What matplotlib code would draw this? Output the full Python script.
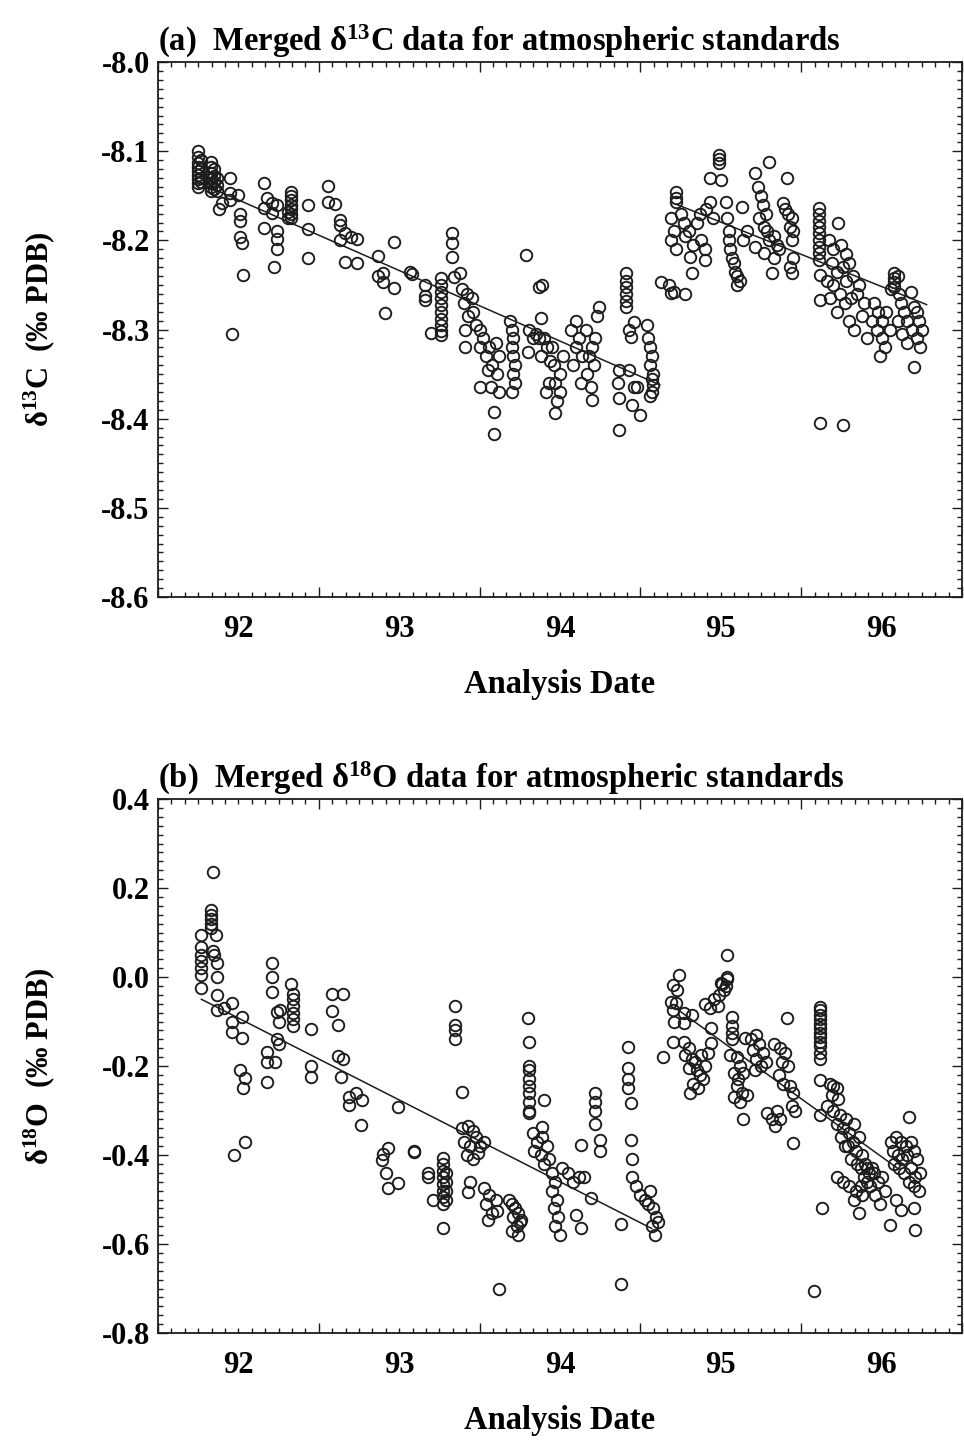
import matplotlib
matplotlib.use("Agg")
import matplotlib.pyplot as plt
from matplotlib.ticker import MultipleLocator, FormatStrFormatter, NullFormatter

plt.rcParams['font.family'] = ['Liberation Serif', 'DejaVu Serif']
plt.rcParams['font.weight'] = 'bold'
plt.rcParams['axes.titleweight'] = 'bold'
plt.rcParams['axes.labelweight'] = 'bold'
plt.rcParams['mathtext.fontset'] = 'custom'
plt.rcParams['mathtext.rm'] = 'Liberation Serif:bold'
plt.rcParams['mathtext.it'] = 'Liberation Serif:italic:bold'
plt.rcParams['mathtext.bf'] = 'Liberation Serif:bold'
plt.rcParams['axes.unicode_minus'] = False

# year axis: labels sit in the middle of each year
year_mid = [1992.5, 1993.5, 1994.5, 1995.5, 1996.5]
year_labels = ['92', '93', '94', '95', '96']

# (a) d13C of the atmospheric standards, per analysis date
c13_date = [
    1992.25, 1992.25, 1992.25, 1992.25, 1992.25, 1992.25, 1992.25, 1992.25, 1992.25,
    1992.27, 1992.27, 1992.27, 1992.27,
    1992.33, 1992.33, 1992.33, 1992.33, 1992.33, 1992.33, 1992.33,
    1992.35, 1992.35, 1992.35, 1992.35,
    1992.37, 1992.37, 1992.37,
    1992.38, 1992.40, 1992.45, 1992.45, 1992.45, 1992.46, 1992.50,
    1992.51, 1992.51, 1992.51, 1992.52, 1992.53,
    1992.66, 1992.66, 1992.66, 1992.68, 1992.71, 1992.71, 1992.72,
    1992.74, 1992.74, 1992.74, 1992.74, 1992.81, 1992.81,
    1992.83, 1992.83, 1992.83, 1992.83, 1992.83, 1992.83, 1992.83,
    1992.93, 1992.93, 1992.93, 1993.06, 1993.06, 1993.10,
    1993.13, 1993.13, 1993.13, 1993.16, 1993.16, 1993.20, 1993.24, 1993.24,
    1993.37, 1993.37, 1993.40, 1993.40, 1993.41, 1993.47, 1993.47,
    1993.57, 1993.58, 1993.66, 1993.66, 1993.66, 1993.70,
    1993.76, 1993.76, 1993.76, 1993.76, 1993.76, 1993.76, 1993.76, 1993.76, 1993.76, 1993.76,
    1993.83, 1993.83, 1993.83, 1993.84, 1993.88,
    1993.89, 1993.90, 1993.92, 1993.93, 1993.95, 1993.96, 1993.98, 1993.91, 1993.91, 1994.00, 1994.00,
    1994.02, 1994.04, 1994.06, 1994.08, 1994.10, 1994.12, 1994.05, 1994.11,
    1994.00, 1994.07, 1994.12, 1994.09, 1994.09,
    1994.19, 1994.20, 1994.21, 1994.20, 1994.21, 1994.22, 1994.21, 1994.22, 1994.20,
    1994.29, 1994.37, 1994.39, 1994.38,
    1994.31, 1994.33, 1994.35, 1994.37, 1994.40, 1994.42, 1994.30, 1994.38, 1994.44,
    1994.45, 1994.46, 1994.47, 1994.48, 1994.47, 1994.50, 1994.52, 1994.50, 1994.41, 1994.43,
    1994.57, 1994.60, 1994.62, 1994.64, 1994.60, 1994.66, 1994.68, 1994.70, 1994.72,
    1994.74, 1994.73, 1994.58, 1994.63, 1994.67, 1994.71, 1994.69, 1994.70,
    1994.87, 1994.87, 1994.87, 1994.86,
    1994.91, 1994.91, 1994.91, 1994.91, 1994.91, 1994.91,
    1994.93, 1994.94, 1994.93, 1994.95, 1994.96, 1994.98, 1995.00, 1994.96,
    1995.04, 1995.05, 1995.06, 1995.07, 1995.06, 1995.08, 1995.07, 1995.08, 1995.07, 1995.06,
    1995.13, 1995.18, 1995.19, 1995.21, 1995.28,
    1995.22, 1995.22, 1995.22, 1995.19, 1995.21, 1995.19, 1995.22, 1995.25, 1995.27, 1995.28, 1995.30,
    1995.31, 1995.32, 1995.33, 1995.35, 1995.37, 1995.38, 1995.40, 1995.40, 1995.43, 1995.41, 1995.45,
    1995.49, 1995.49, 1995.49, 1995.43, 1995.50,
    1995.53, 1995.54, 1995.55, 1995.55, 1995.56, 1995.57, 1995.58, 1995.59, 1995.60, 1995.60,
    1995.62, 1995.63, 1995.64, 1995.66,
    1995.71, 1995.80, 1995.73, 1995.75, 1995.76, 1995.74, 1995.78, 1995.77, 1995.79,
    1995.71, 1995.77, 1995.80, 1995.83, 1995.85, 1995.82, 1995.83, 1995.86,
    1995.91, 1995.89, 1995.90, 1995.92, 1995.94, 1995.93, 1995.95, 1995.94, 1995.95, 1995.94, 1995.93,
    1996.11, 1996.11, 1996.11, 1996.11, 1996.11, 1996.11, 1996.11, 1996.11, 1996.11,
    1996.12, 1996.12, 1996.12, 1996.26,
    1996.23, 1996.17, 1996.20, 1996.25, 1996.28, 1996.19, 1996.22, 1996.26, 1996.30, 1996.16,
    1996.20, 1996.24, 1996.28, 1996.32, 1996.36, 1996.18, 1996.22, 1996.27, 1996.31, 1996.35,
    1996.39, 1996.33, 1996.38, 1996.41, 1996.30,
    1996.45, 1996.48, 1996.44, 1996.50, 1996.53, 1996.47, 1996.50, 1996.55, 1996.52, 1996.58,
    1996.58, 1996.58, 1996.58, 1996.60, 1996.56, 1996.61, 1996.62, 1996.64, 1996.60, 1996.66,
    1996.63, 1996.68, 1996.70, 1996.72, 1996.69, 1996.73, 1996.75, 1996.72, 1996.74, 1996.66,
    1996.49, 1996.70,
]
c13_val = [
    -8.100, -8.107, -8.113, -8.118, -8.122, -8.127, -8.131, -8.136, -8.140,
    -8.110, -8.120, -8.130, -8.135,
    -8.112, -8.118, -8.124, -8.130, -8.136, -8.140, -8.145,
    -8.120, -8.128, -8.135, -8.142,
    -8.130, -8.138, -8.145,
    -8.165, -8.158, -8.130, -8.147, -8.155, -8.305, -8.149,
    -8.170, -8.178, -8.196, -8.203, -8.239,
    -8.136, -8.164, -8.186, -8.152, -8.158, -8.169, -8.230,
    -8.160, -8.190, -8.198, -8.210, -8.168, -8.175,
    -8.146, -8.150, -8.155, -8.160, -8.165, -8.170, -8.175,
    -8.160, -8.187, -8.220, -8.139, -8.157, -8.159,
    -8.177, -8.183, -8.200, -8.192, -8.224, -8.196, -8.198, -8.225,
    -8.218, -8.240, -8.237, -8.247, -8.281, -8.202, -8.253,
    -8.235, -8.238, -8.250, -8.262, -8.267, -8.304,
    -8.242, -8.250, -8.258, -8.265, -8.272, -8.280, -8.288, -8.295, -8.302, -8.306,
    -8.192, -8.203, -8.219, -8.241, -8.237,
    -8.255, -8.270, -8.260, -8.285, -8.265, -8.280, -8.295, -8.300, -8.320, -8.320, -8.300,
    -8.310, -8.330, -8.320, -8.340, -8.315, -8.330, -8.345, -8.350,
    -8.364, -8.364, -8.370, -8.392, -8.417,
    -8.290, -8.300, -8.310, -8.320, -8.330, -8.340, -8.350, -8.360, -8.370,
    -8.216, -8.252, -8.250, -8.287,
    -8.300, -8.310, -8.305, -8.310, -8.310, -8.320, -8.325, -8.330, -8.335,
    -8.320, -8.340, -8.360, -8.380, -8.394, -8.350, -8.330, -8.370, -8.370, -8.360,
    -8.300, -8.290, -8.310, -8.330, -8.320, -8.300, -8.330, -8.320, -8.310,
    -8.275, -8.285, -8.340, -8.360, -8.350, -8.340, -8.365, -8.379,
    -8.413, -8.345, -8.377, -8.360,
    -8.237, -8.245, -8.252, -8.260, -8.268, -8.275,
    -8.300, -8.308, -8.345, -8.385, -8.365, -8.365, -8.396, -8.291,
    -8.295, -8.310, -8.320, -8.330, -8.340, -8.350, -8.355, -8.362, -8.370, -8.375,
    -8.247, -8.250, -8.259, -8.258, -8.260,
    -8.146, -8.152, -8.157, -8.175, -8.190, -8.200, -8.210, -8.170, -8.180, -8.195, -8.190,
    -8.219, -8.237, -8.205, -8.180, -8.170, -8.200, -8.222, -8.210, -8.157, -8.165, -8.175,
    -8.104, -8.109, -8.113, -8.130, -8.132,
    -8.157, -8.175, -8.190, -8.200, -8.210, -8.220, -8.225, -8.235, -8.240, -8.250,
    -8.245, -8.163, -8.200, -8.190,
    -8.124, -8.112, -8.140, -8.150, -8.160, -8.175, -8.170, -8.185, -8.190,
    -8.207, -8.214, -8.200, -8.195, -8.205, -8.237, -8.220, -8.210,
    -8.130, -8.158, -8.165, -8.170, -8.175, -8.185, -8.190, -8.200, -8.220, -8.237, -8.230,
    -8.164, -8.170, -8.178, -8.185, -8.192, -8.200, -8.207, -8.214, -8.222,
    -8.239, -8.267, -8.405, -8.407,
    -8.180, -8.200, -8.210, -8.205, -8.215, -8.225, -8.235, -8.230, -8.225, -8.245,
    -8.250, -8.260, -8.245, -8.240, -8.250, -8.265, -8.280, -8.270, -8.265, -8.260,
    -8.270, -8.300, -8.285, -8.310, -8.290,
    -8.270, -8.280, -8.290, -8.290, -8.280, -8.300, -8.310, -8.300, -8.320, -8.237,
    -8.242, -8.247, -8.252, -8.240, -8.255, -8.260, -8.270, -8.280, -8.290, -8.290,
    -8.305, -8.258, -8.275, -8.280, -8.300, -8.290, -8.300, -8.310, -8.320, -8.315,
    -8.330, -8.342,
]

# (b) d18O of the atmospheric standards, per analysis date
o18_date = [
    1992.34, 1992.33, 1992.33, 1992.33, 1992.33, 1992.33, 1992.36, 1992.27,
    1992.27, 1992.27, 1992.27, 1992.27, 1992.27, 1992.27, 1992.34, 1992.35,
    1992.37, 1992.37, 1992.37, 1992.37, 1992.41, 1992.46, 1992.46, 1992.46,
    1992.52, 1992.52, 1992.51, 1992.54, 1992.53, 1992.54, 1992.47,
    1992.71, 1992.71, 1992.71, 1992.74, 1992.76, 1992.75, 1992.74, 1992.75, 1992.68, 1992.68, 1992.73, 1992.68,
    1992.83, 1992.84, 1992.84, 1992.84, 1992.84, 1992.84, 1992.84, 1992.95, 1992.95, 1992.95,
    1993.08, 1993.15, 1993.08, 1993.12, 1993.12, 1993.15, 1993.14, 1993.19, 1993.23, 1993.19, 1993.27, 1993.26, 1993.49,
    1993.39, 1993.43, 1993.40, 1993.42, 1993.43, 1993.49, 1993.59, 1993.59, 1993.68, 1993.68, 1993.71,
    1993.77, 1993.77, 1993.77, 1993.77, 1993.77, 1993.77, 1993.77, 1993.77, 1993.79, 1993.79, 1993.79, 1993.79, 1993.77,
    1993.85, 1993.85, 1993.85, 1993.85, 1993.89,
    1993.89, 1993.93, 1993.96, 1993.98, 1993.90, 1993.94, 1994.00, 1993.92, 1993.96, 1993.99, 1994.03,
    1993.94, 1993.93, 1994.03, 1994.06, 1994.04, 1994.08, 1994.05, 1994.10, 1994.11,
    1994.18, 1994.20, 1994.22, 1994.24, 1994.21, 1994.25, 1994.23, 1994.26, 1994.20, 1994.24,
    1994.30, 1994.31, 1994.31, 1994.31, 1994.31, 1994.31, 1994.31, 1994.31, 1994.31, 1994.31, 1994.40, 1994.39,
    1994.33, 1994.36, 1994.39, 1994.42, 1994.34, 1994.38, 1994.43, 1994.40,
    1994.45, 1994.47, 1994.45, 1994.48, 1994.46, 1994.49, 1994.47, 1994.50,
    1994.51, 1994.55, 1994.58, 1994.62, 1994.65, 1994.60, 1994.63, 1994.63, 1994.69,
    1994.72, 1994.72, 1994.72, 1994.72, 1994.75, 1994.75, 1994.88,
    1994.92, 1994.92, 1994.92, 1994.92, 1994.94, 1994.94, 1994.95, 1994.95,
    1994.97, 1995.00, 1995.03, 1995.06, 1995.08, 1995.10, 1995.07, 1995.09, 1995.11, 1995.05,
    1994.12, 1994.88, 1996.08,
    1995.14, 1995.20, 1995.24, 1995.20, 1995.23, 1995.19, 1995.22, 1995.20, 1995.21, 1995.27, 1995.32, 1995.27,
    1995.27, 1995.30, 1995.28, 1995.32, 1995.34, 1995.30, 1995.35, 1995.37, 1995.33, 1995.36,
    1995.31, 1995.39, 1995.40, 1995.38, 1995.42,
    1995.44, 1995.44, 1995.40, 1995.43, 1995.46, 1995.49, 1995.52, 1995.51, 1995.54, 1995.53,
    1995.48, 1995.54, 1995.54, 1995.50,
    1995.57, 1995.57, 1995.57, 1995.57, 1995.56, 1995.60, 1995.62, 1995.58, 1995.61, 1995.64,
    1995.60, 1995.63, 1995.58, 1995.66, 1995.62, 1995.65, 1995.64,
    1995.72, 1995.69, 1995.74, 1995.70, 1995.76, 1995.72, 1995.78, 1995.75, 1995.71, 1995.79,
    1995.82, 1995.84, 1995.87, 1995.85,
    1995.91, 1995.83, 1995.87, 1995.90, 1995.88, 1995.92, 1995.86, 1995.89, 1995.93, 1995.95,
    1995.94, 1995.96, 1995.95,
    1996.12, 1996.12, 1996.12, 1996.12, 1996.12, 1996.12, 1996.12, 1996.12, 1996.12, 1996.12,
    1996.12, 1996.12, 1996.12, 1996.13, 1996.12,
    1996.18, 1996.20, 1996.22, 1996.19, 1996.23,
    1996.16, 1996.20, 1996.24, 1996.22, 1996.26, 1996.30, 1996.28, 1996.33, 1996.36, 1996.32,
    1996.29, 1996.34, 1996.38, 1996.40, 1996.37, 1996.42, 1996.44, 1996.39, 1996.25, 1996.27,
    1996.31, 1996.35,
    1996.22, 1996.26, 1996.30, 1996.34, 1996.38, 1996.33, 1996.37, 1996.41, 1996.36,
    1996.41, 1996.45, 1996.48, 1996.43, 1996.50, 1996.46, 1996.52, 1996.49,
    1996.56, 1996.59, 1996.62, 1996.65, 1996.68, 1996.57, 1996.60, 1996.63, 1996.66, 1996.70,
    1996.72, 1996.58, 1996.61, 1996.64, 1996.68, 1996.71, 1996.74, 1996.70, 1996.73, 1996.67,
    1996.67, 1996.59, 1996.62, 1996.70, 1996.55, 1996.71,
]
o18_val = [
    0.237, 0.150, 0.140, 0.130, 0.120, 0.110, 0.094, 0.094,
    0.068, 0.050, 0.035, 0.020, 0.005, -0.025, 0.058, 0.050,
    0.031, 0.000, -0.040, -0.074, -0.070, -0.059, -0.100, -0.123,
    -0.089, -0.138, -0.209, -0.228, -0.250, -0.370, -0.400,
    0.031, -0.001, -0.033, -0.078, -0.075, -0.100, -0.140, -0.150, -0.168, -0.190, -0.190, -0.237,
    -0.016, -0.037, -0.050, -0.065, -0.080, -0.095, -0.110, -0.117, -0.199, -0.224,
    -0.037, -0.037, -0.076, -0.108, -0.177, -0.185, -0.224, -0.269, -0.261, -0.287, -0.276, -0.333, -0.291,
    -0.411, -0.385, -0.398, -0.441, -0.475, -0.463, -0.390, -0.394, -0.440, -0.450, -0.500,
    -0.407, -0.420, -0.435, -0.450, -0.465, -0.480, -0.495, -0.510, -0.440, -0.460, -0.480, -0.500, -0.565,
    -0.066, -0.108, -0.120, -0.140, -0.258,
    -0.340, -0.335, -0.345, -0.360, -0.370, -0.380, -0.380, -0.400, -0.410, -0.395, -0.370,
    -0.460, -0.483, -0.475, -0.490, -0.510, -0.530, -0.545, -0.500, -0.525,
    -0.500, -0.510, -0.520, -0.530, -0.540, -0.550, -0.560, -0.545, -0.570, -0.580,
    -0.093, -0.147, -0.200, -0.210, -0.230, -0.245, -0.260, -0.280, -0.300, -0.305, -0.276, -0.336,
    -0.350, -0.370, -0.360, -0.380, -0.390, -0.400, -0.410, -0.420,
    -0.440, -0.460, -0.480, -0.500, -0.520, -0.540, -0.560, -0.580,
    -0.430, -0.440, -0.460, -0.450, -0.450, -0.535, -0.565, -0.378, -0.497,
    -0.260, -0.280, -0.300, -0.330, -0.366, -0.390, -0.554,
    -0.157, -0.205, -0.230, -0.250, -0.284, -0.366, -0.410, -0.450,
    -0.470, -0.490, -0.500, -0.480, -0.520, -0.540, -0.560, -0.580, -0.550, -0.510,
    -0.700, -0.690, -0.705,
    -0.179, -0.145, 0.005, -0.018, -0.029, -0.055, -0.059, -0.074, -0.100, -0.081, -0.085, -0.104,
    -0.145, -0.160, -0.175, -0.185, -0.190, -0.205, -0.210, -0.220, -0.240, -0.250,
    -0.260, -0.230, -0.200, -0.175, -0.170,
    -0.115, -0.149, -0.060, -0.070, -0.050, -0.040, -0.030, -0.015, -0.005, -0.020,
    -0.065, 0.049, 0.000, -0.014,
    -0.090, -0.110, -0.125, -0.140, -0.175, -0.180, -0.200, -0.215, -0.230, -0.215,
    -0.245, -0.260, -0.270, -0.265, -0.280, -0.138, -0.318,
    -0.130, -0.140, -0.150, -0.165, -0.170, -0.185, -0.190, -0.200, -0.210, -0.306,
    -0.320, -0.335, -0.318, -0.300,
    -0.093, -0.150, -0.160, -0.170, -0.190, -0.200, -0.220, -0.240, -0.245, -0.260,
    -0.290, -0.300, -0.374,
    -0.067, -0.075, -0.085, -0.095, -0.105, -0.115, -0.125, -0.135, -0.145, -0.155,
    -0.170, -0.185, -0.231, -0.520, -0.310,
    -0.240, -0.245, -0.250, -0.265, -0.275,
    -0.290, -0.300, -0.310, -0.330, -0.340, -0.350, -0.320, -0.330, -0.360, -0.370,
    -0.380, -0.390, -0.400, -0.420, -0.430, -0.440, -0.430, -0.450, -0.360, -0.380,
    -0.410, -0.420,
    -0.450, -0.460, -0.470, -0.480, -0.490, -0.500, -0.470, -0.460, -0.530,
    -0.430, -0.440, -0.460, -0.470, -0.450, -0.490, -0.480, -0.510,
    -0.370, -0.360, -0.370, -0.380, -0.370, -0.390, -0.400, -0.410, -0.400, -0.390,
    -0.410, -0.420, -0.430, -0.440, -0.430, -0.450, -0.440, -0.470, -0.480, -0.460,
    -0.314, -0.500, -0.523, -0.520, -0.557, -0.568,
]

# fitted trend segments (start / end)
c13_trend_dates = [[1992.29, 1995.12], [1995.23, 1996.78]]
c13_trend_vals = [[-8.138, -8.362], [-8.160, -8.272]]
o18_trend_dates = [[1992.27, 1995.07], [1995.22, 1996.60]]
o18_trend_vals = [[-0.050, -0.565], [-0.070, -0.430]]

assert len(c13_date) == len(c13_val)
assert len(o18_date) == len(o18_val)

INK = '#1c1c1c'
FS = 22
FS_TITLE = 23.5


def style_axis(ax, ylim, ymajor, yminor):
    ax.set_xlim(1992, 1997)
    ax.set_ylim(*ylim)
    ax.xaxis.set_major_locator(MultipleLocator(1))
    ax.xaxis.set_minor_locator(MultipleLocator(1 / 12))
    ax.xaxis.set_major_formatter(NullFormatter())
    ax.yaxis.set_major_locator(MultipleLocator(ymajor))
    ax.yaxis.set_minor_locator(MultipleLocator(yminor))
    ax.yaxis.set_major_formatter(FormatStrFormatter('%.1f'))
    ax.tick_params(which='both', direction='in', top=True, right=True,
                   width=1.0, color=INK, labelsize=FS, pad=6)
    ax.tick_params(which='major', length=7)
    ax.tick_params(which='minor', length=3.5)
    for s in ax.spines.values():
        s.set_linewidth(1.3)
        s.set_color(INK)

    sec = ax.secondary_xaxis('bottom')
    sec.set_xticks(year_mid, year_labels)
    sec.tick_params(length=0, pad=13, labelsize=FS)
    sec.spines['bottom'].set_visible(False)
    sec.set_xlabel('Analysis Date', fontsize=FS_TITLE, labelpad=18)


fig = plt.figure(figsize=(9.64, 14.4), dpi=100)
ax_a = fig.add_axes([0.1639, 0.5854, 0.834, 0.3715])
ax_b = fig.add_axes([0.1639, 0.0743, 0.834, 0.3708])

marker = dict(ls='none', marker='o', mfc='none', mec=INK, ms=8.3, mew=1.35)

ax_a.plot(c13_date, c13_val, **marker)
for d, v in zip(c13_trend_dates, c13_trend_vals):
    ax_a.plot(d, v, color=INK, lw=1.1)
style_axis(ax_a, (-8.6, -8.0), 0.1, 0.01)
ax_a.set_ylabel('δ$^{13}$C  ($\\mathit{‰}$ PDB)', fontsize=FS, labelpad=32)
ax_a.set_title('(a)  Merged δ$^{13}$C data for atmospheric standards',
               fontsize=FS_TITLE, loc='left', pad=8)

ax_b.plot(o18_date, o18_val, **marker)
for d, v in zip(o18_trend_dates, o18_trend_vals):
    ax_b.plot(d, v, color=INK, lw=1.1)
style_axis(ax_b, (-0.8, 0.4), 0.2, 0.02)
ax_b.set_ylabel('δ$^{18}$O  ($\\mathit{‰}$ PDB)', fontsize=FS, labelpad=32)
ax_b.set_title('(b)  Merged δ$^{18}$O data for atmospheric standards',
               fontsize=FS_TITLE, loc='left', pad=8)

fig.savefig('out.png', dpi=100, facecolor='white')
